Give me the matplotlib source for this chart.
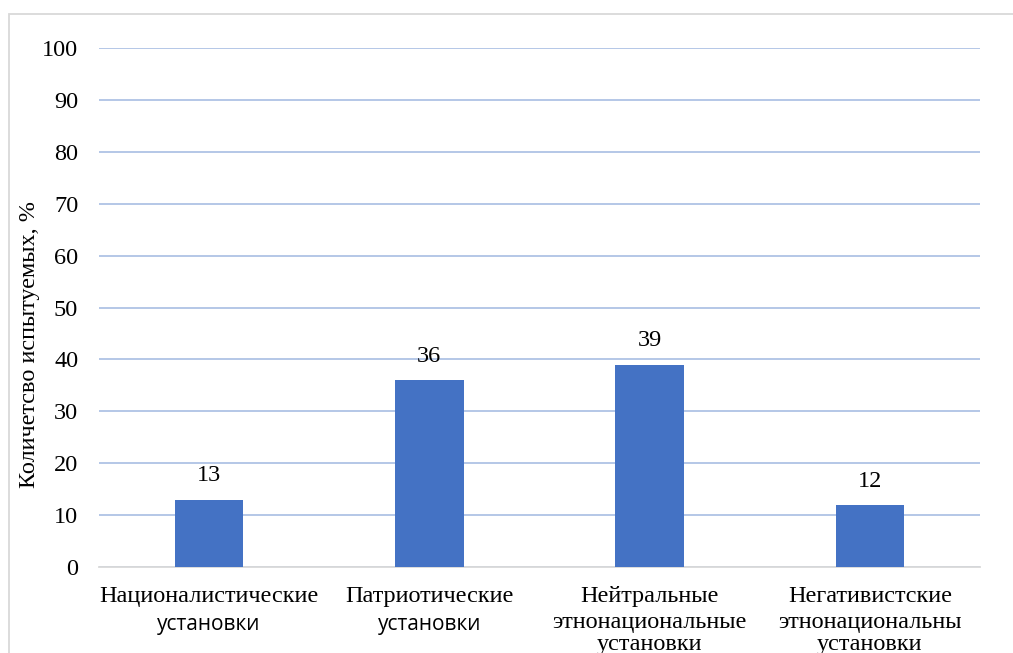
import matplotlib
matplotlib.use("Agg")
import matplotlib.pyplot as plt
from matplotlib.patches import Rectangle

# данные диаграммы
categories = ["Националистические", "Патриотические", "Нейтральные", "Негативистские"]
label_lines = [
    [("Националистические", "serif"), ("установки", "sans")],
    [("Патриотические", "serif"), ("установки", "sans")],
    [("Нейтральные", "serif"), ("этнонациональные", "serif"), ("установки", "serif")],
    [("Негативистские", "serif"), ("этнонациональны", "serif"), ("установки", "serif")],
]
values = [13, 36, 39, 12]
y_ticks = [0, 10, 20, 30, 40, 50, 60, 70, 80, 90, 100]
y_label = "Количетсво испытуемых, %"

serif = "Liberation Serif"
sans = "Open Sans"
fs = 17.5

W, H = 1013, 653
fig = plt.figure(figsize=(W / 100, H / 100), dpi=100)
ax = fig.add_axes([99 / W, (H - 567) / H, 881 / W, (567 - 48) / H])

# рамка вокруг диаграммы
fig.patches.append(Rectangle((9 / W, -0.2), 1.2, 1.2 - 14 / H,
                             transform=fig.transFigure, fill=False,
                             edgecolor="#D9D9D9", linewidth=1.3))

x = list(range(len(values)))
ax.bar(x, values, width=0.31, color="#4472C4", zorder=3)
ax.set_xlim(-0.5, len(values) - 0.5)
ax.set_ylim(0, 100)
ax.set_yticks(y_ticks)
ax.set_yticklabels([str(t) for t in y_ticks], family=serif, fontsize=fs)
ax.tick_params(axis="y", length=0, pad=15)
ax.set_xticks([])

for s in ["top", "right", "left"]:
    ax.spines[s].set_visible(False)
ax.spines["bottom"].set_color("#D9D9D9")
ax.spines["bottom"].set_linewidth(1.3)
ax.grid(axis="y", color="#B4C7E7", linewidth=1.4, zorder=0)

# подписи значений
for xi, v in zip(x, values):
    ax.annotate(str(v), (xi, v), xytext=(0, 17), textcoords="offset points",
                ha="center", va="center", family=serif, fontsize=fs)

# подписи категорий
offsets = {"serif": [21, 40, 56], "sans": [21, 41.5, 56]}
for xi, lines in zip(x, label_lines):
    for i, (txt, kind) in enumerate(lines):
        ax.annotate(txt, (xi, 0), xycoords=("data", "axes fraction"),
                    xytext=(0, -offsets[kind][i]), textcoords="offset points",
                    ha="center", va="center",
                    family=serif if kind == "serif" else sans,
                    fontsize=fs if kind == "serif" else 15,
                    annotation_clip=False)

fig.text(30 / W, 1 - 345 / H, y_label, rotation=90, ha="center", va="center",
         family=serif, fontsize=fs)

fig.savefig("out.png", dpi=100)
